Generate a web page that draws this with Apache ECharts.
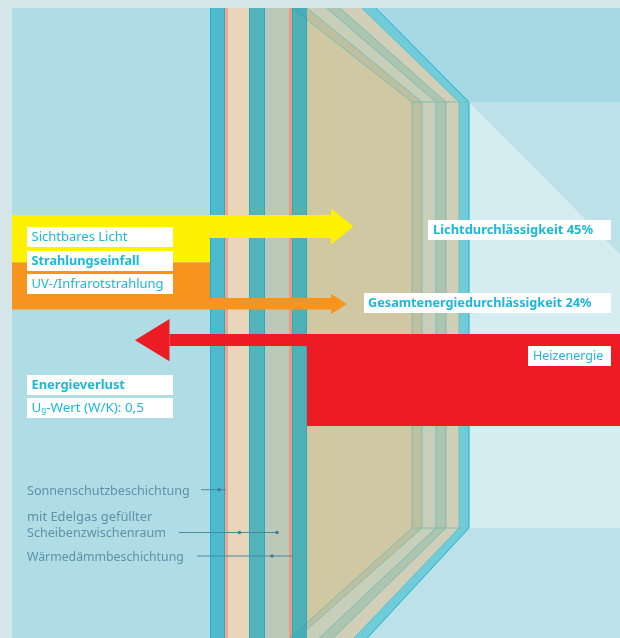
<!DOCTYPE html>
<html><head><meta charset="utf-8">
<style>html,body{margin:0;padding:0;background:#d6e5e8}#c{width:620px;height:638px}</style>
<script src="https://cdn.jsdelivr.net/npm/echarts@6/dist/echarts.min.js"></script>
</head><body><div id="c"></div>
<script>
// Scale extents of the hidden axes
const xExtent = [0, 620], yExtent = [0, 638];

// Glass build-up: front face strips
const frontNames = ['Glas 1','Sonnenschutz','Gas 1','Glas 2','Gas 2','Wärmedämmung','Glas 3'];
const frontFrom  = [210, 225, 228, 249.5, 265, 289, 292];
const frontTo    = [225, 228, 249.5, 265, 289, 292, 307];

// Perspective edges: x at the top of the picture, rear top corner, bottom of the picture
const edgeTopX    = [292, 307, 326.7, 340, 361.7, 375.7];
const edgeRearX   = [412, 422, 436, 446, 459, 469];
const edgeBottomX = [290, 297.3, 319.3, 333.3, 354, 367.3];
const rearTopY = 102, rearBottomY = 528;

// Radiation flows, axis units
const flowNames  = ['Sichtbares Licht','UV-/Infrarotstrahlung','Energieverlust'];
const flowBand   = [[12,210,215,262.5],[12,210,262.5,309.5],[307,620,334,426]];
const flowShaft  = [[210,331,215,238],[210,331,298,309.5],[169.5,307,334,346]];
const flowHead   = [[331,353.5,208.5,244.5],[331,346.7,293.7,314.3],[169.5,135,319,361.3]];

// Labels
const whiteLabels = ['Sichtbares Licht','Strahlungseinfall','UV-/Infrarotstrahlung','Energieverlust','U{g|g}-Wert (W/K): 0,5','Lichtdurchlässigkeit 45%','Gesamtenergiedurchlässigkeit 24%','Heizenergie'];
const whiteBold   = [0,1,0,1,0,1,1,0];
const whiteBoxX0  = [27,27,27,27,27,428,364,528];
const whiteBoxX1  = [173,173,173,173,173,611,611,611];
const whiteBoxY0  = [227,251,274,375,398,220,293,346];

const noteLabels = ['Sonnenschutzbeschichtung','mit Edelgas gefüllter','Scheibenzwischenraum','Wärmedämmbeschichtung'];
const noteY      = [491,517,533.5,557];
const leaderFrom = [201,179,197];
const leaderTo   = [226,279,293];
const leaderY    = [489.7,532.5,556];
const leaderDots = [[219],[239.5,277],[272]];

const FRONT_COL = ['#4cbbce','#f2a68f','#e8d4b8','#53b4bc','#bdc9b8','#f0977f','#4fb1b4'];
const REAR_COL  = ['#bdbf9f','#c8cfb8','#acc4b0','#d2cfb8','#71ccd9'];
const FLOW_COL  = ['#fff200','#f7941d','#ed1c24'];
const TEXT_COL = '#1cb8d8', NOTE_COL = '#5b93a9', LEAD_COL = '#4a8aa2';
const FONT = '"Noto Sans"';
const WHITE_FS = [13,12.7,13,12.9,13.4,12.9,12.7,12.5];
const WHITE_DX = [4.5,4.5,4.5,4.5,4.5,5,4,5];
const NOTE_FS = [12.6,12.9,12.6,12.3];

function buildChildren(api){
  const c = [];
  const P = a => a.map(p => api.coord(p));
  const poly = (pts, fill, extra) => c.push({type:'polygon', shape:{points:P(pts)}, style:Object.assign({fill}, extra||{})});
  const line = (a,b,stroke,w) => { const A=api.coord(a),B=api.coord(b); c.push({type:'line',shape:{x1:A[0],y1:A[1],x2:B[0],y2:B[1]},style:{stroke,lineWidth:w||1}}); };
  const T=8, R=620, Bm=638, L=12;

  // Background
  poly([[L,T],[R,T],[R,Bm],[L,Bm]], '#b0dce6');
  poly([[362,T],[R,T],[R,rearTopY],[469,rearTopY]], '#a5d8e3');
  poly([[469,rearTopY],[R,rearTopY],[R,254]], '#bce1e9');
  poly([[469,rearTopY],[R,254],[R,rearBottomY],[469,rearBottomY]], '#d5ecf1');
  poly([[469,rearBottomY],[R,rearBottomY],[R,Bm],[360,Bm]], '#bce1e9');

  // Rear strips: top, side, bottom
  for(let i=0;i<5;i++){
    const col = REAR_COL[i];
    poly([[edgeTopX[i],T],[edgeTopX[i+1],T],[edgeRearX[i+1],rearTopY],[edgeRearX[i],rearTopY]], col);
    poly([[edgeRearX[i],rearTopY],[edgeRearX[i+1],rearTopY],[edgeRearX[i+1],rearBottomY],[edgeRearX[i],rearBottomY]], col);
    poly([[edgeRearX[i],rearBottomY],[edgeRearX[i+1],rearBottomY],[edgeBottomX[i+1],Bm],[edgeBottomX[i],Bm]], col);
  }
  // Rear pane
  const yT = T + (rearTopY-T)*(307-edgeTopX[0])/(edgeRearX[0]-edgeTopX[0]);
  const yB = rearBottomY + (Bm-rearBottomY)*(edgeRearX[0]-307)/(edgeRearX[0]-edgeBottomX[0]);
  poly([[307,yT],[edgeRearX[0],rearTopY],[edgeRearX[0],rearBottomY],[307,yB]], '#cfc8a2');

  // Rear edges
  for(let i=0;i<6;i++){
    const col = i===5 ? '#1fb0c8' : (i===4 ? '#5cc0cc' : '#7dbdb4');
    line([edgeTopX[i],T],[edgeRearX[i],rearTopY],col);
    line([edgeRearX[i],rearTopY],[edgeRearX[i],rearBottomY],i===5?'#1fb0c8':'#7dbdb4');
    line([edgeRearX[i],rearBottomY],[edgeBottomX[i],Bm],col);
  }
  line([edgeRearX[0],rearTopY],[469,rearTopY],'#7dbdb4');
  line([edgeRearX[0],rearBottomY],[469,rearBottomY],'#7dbdb4');

  // Front strips
  frontNames.forEach((n,i)=>{
    poly([[frontFrom[i],T],[frontTo[i],T],[frontTo[i],Bm],[frontFrom[i],Bm]], FRONT_COL[i]);
  });
  [210.5,224.5,249.5,264.5,292.5,306.5].forEach(x=>line([x,T],[x,Bm],'#1fb0c8'));
  // Rear edge seen through the third pane
  poly([[292,T],[307,T],[307,yT]], '#44adb9');
  poly([[292,Bm],[307,Bm],[307,yB]], '#44adb9');
  line([292,T],[307,yT],'#3aa9b8');
  line([307,yB],[290,Bm],'#3aa9b8');

  // Flows
  FLOW_COL.forEach((col,i)=>{
    const b=flowBand[i], s=flowShaft[i], h=flowHead[i];
    poly([[b[0],b[2]],[b[1],b[2]],[b[1],b[3]],[b[0],b[3]]],col);
    poly([[s[0],s[2]],[s[1],s[2]],[s[1],s[3]],[s[0],s[3]]],col);
    poly([[h[0],h[2]],[h[1],(h[2]+h[3])/2],[h[0],h[3]]],col);
  });

  // Label boxes
  whiteLabels.forEach((t,i)=>{
    const h=20;
    poly([[whiteBoxX0[i],whiteBoxY0[i]],[whiteBoxX1[i],whiteBoxY0[i]],[whiteBoxX1[i],whiteBoxY0[i]+h],[whiteBoxX0[i],whiteBoxY0[i]+h]],'#ffffff');
    const a=api.coord([whiteBoxX0[i]+WHITE_DX[i],whiteBoxY0[i]+h/2]);
    c.push({type:'text',x:a[0],y:a[1],style:{text:t,fill:TEXT_COL,verticalAlign:'middle',align:'left',
      font:(whiteBold[i]?'700 ':'400 ')+WHITE_FS[i]+'px '+FONT,
      rich:{g:{fontSize:8,fill:TEXT_COL,fontFamily:FONT,verticalAlign:'bottom',padding:[6,0,0,0]}}}});
  });

  // Leaders and notes
  noteLabels.forEach((t,i)=>{
    const a=api.coord([27,noteY[i]]);
    c.push({type:'text',x:a[0],y:a[1],style:{text:t,fill:NOTE_COL,verticalAlign:'middle',align:'left',font:'400 '+NOTE_FS[i]+'px '+FONT}});
  });
  leaderFrom.forEach((x,i)=>{
    line([x,leaderY[i]],[leaderTo[i],leaderY[i]],LEAD_COL,1);
    leaderDots[i].forEach(d=>{const A=api.coord([d,leaderY[i]]);c.push({type:'circle',shape:{cx:A[0],cy:A[1],r:1.8},style:{fill:'#3f7f98'}});});
  });
  return c;
}

const chart = echarts.init(document.getElementById('c'),null,{renderer:'canvas'});
chart.setOption({
  animation:false,
  backgroundColor:'#d6e5e8',
  grid:{left:0,right:0,top:0,bottom:0},
  xAxis:{type:'value',min:xExtent[0],max:xExtent[1],show:false},
  yAxis:{type:'value',min:yExtent[0],max:yExtent[1],inverse:true,show:false},
  series:[{type:'custom',coordinateSystem:'cartesian2d',clip:false,silent:true,data:[[0,0]],
    renderItem:(p,api)=>({type:'group',children:buildChildren(api)})}]
});
</script></body></html>
